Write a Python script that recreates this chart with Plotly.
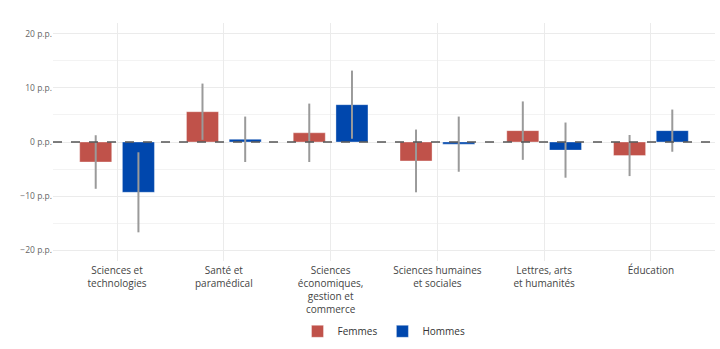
import plotly.graph_objects as go

categories = ["Sciences et<br>technologies", "Santé et<br>paramédical",
              "Sciences<br>économiques,<br>gestion et<br>commerce",
              "Sciences humaines<br>et sociales", "Lettres, arts<br>et humanités", "Éducation"]
femmes = [-3.7, 5.6, 1.7, -3.5, 2.1, -2.5]
femmes_err = [4.95, 5.2, 5.4, 5.8, 5.4, 3.8]
hommes = [-9.3, 0.5, 6.9, -0.4, -1.5, 2.1]
hommes_err = [7.4, 4.2, 6.3, 5.1, 5.1, 3.9]
tick_vals = [-20, -10, 0, 10, 20]
tick_text = ["−20 p.p.", "−10 p.p.", "0 p.p.", "10 p.p.", "20 p.p."]

font = "Open Sans"
fig = go.Figure()
for name, vals, errs, col in [("Femmes", femmes, femmes_err, "#c0524a"),
                              ("Hommes", hommes, hommes_err, "#0047ad")]:
    fig.add_trace(go.Bar(
        x=list(range(len(categories))), y=vals, name=name,
        marker=dict(color=col, line=dict(color="rgba(255,255,255,0.35)", width=1)),
        error_y=dict(type="data", array=errs, color="#9a9a9a", thickness=2, width=0),
    ))

fig.add_hline(y=0, line=dict(color="#555555", width=1.5, dash="dash"))

fig.update_layout(
    width=720, height=349,
    margin=dict(l=53, r=5, t=23, b=87),
    paper_bgcolor="white", plot_bgcolor="white",
    barmode="group", bargap=0.2, bargroupgap=0.25,
    font=dict(family=font, color="#444444"),
    showlegend=True,
    legend=dict(orientation="h", x=0.5, xanchor="center", y=-0.29, yanchor="middle",
                font=dict(size=10, color="#333333"), itemwidth=30, tracegroupgap=0),
    xaxis=dict(range=[-0.6, 5.6], tickmode="array", tickvals=list(range(len(categories))),
               ticktext=categories, showgrid=True, gridcolor="#ebebeb", gridwidth=1,
               zeroline=False, tickfont=dict(size=10, color="#444444"), ticks="",
               showline=False, automargin=False, ticklabelstandoff=2),
    yaxis=dict(range=[-22, 22], tickmode="array", tickvals=tick_vals, ticktext=tick_text,
               showgrid=True, gridcolor="#ebebeb", gridwidth=1, zeroline=False,
               tickfont=dict(size=8.5, color="#666666"), automargin=False,
               minor=dict(tickvals=[-15, -5, 5, 15], showgrid=True, gridcolor="#f3f3f3", gridwidth=1),
               showline=False),
)

fig.write_html("out.html")
